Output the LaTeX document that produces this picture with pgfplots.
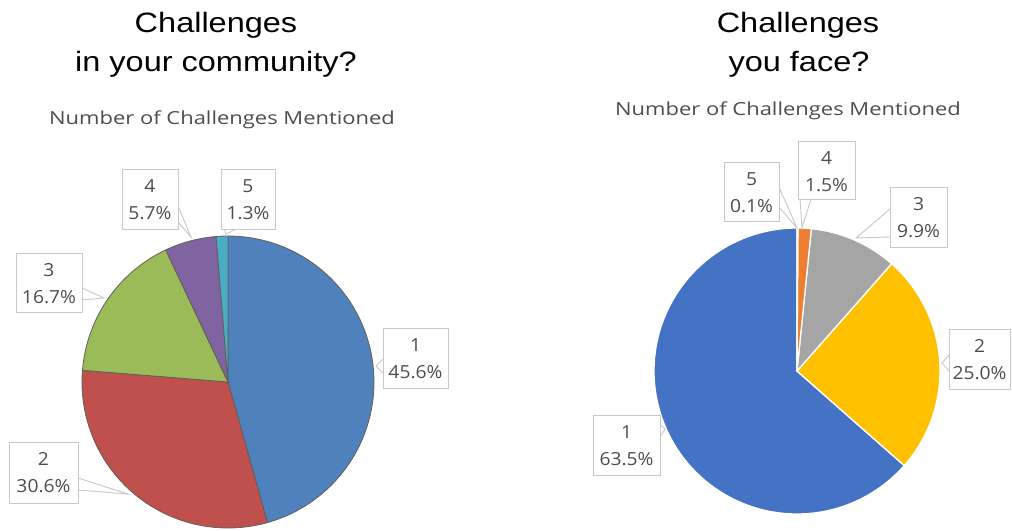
\documentclass[border=0pt]{standalone}
\usepackage{pgfplots}
\pgfplotsset{compat=1.18}
\usepackage{fontspec}
\setmainfont{Liberation Sans}
\newfontfamily\osans{Open Sans}

\definecolor{La}{HTML}{4F81BD}
\definecolor{Lb}{HTML}{C0504D}
\definecolor{Lc}{HTML}{9BBB59}
\definecolor{Ld}{HTML}{8064A2}
\definecolor{Le}{HTML}{4BACC6}
\definecolor{Lborder}{HTML}{5F5F55}
\definecolor{Ra}{HTML}{4472C4}
\definecolor{Rb}{HTML}{FFC000}
\definecolor{Rc}{HTML}{A5A5A5}
\definecolor{Rd}{HTML}{ED7D31}
\definecolor{Re}{HTML}{5B9BD5}
\definecolor{boxc}{HTML}{C8C8C8}
\definecolor{lbltext}{HTML}{4D4D4D}

% left pie: centre (228,382), r = 146, clockwise from the top
% shares (percent): 45.6, 30.6, 16.7, 5.7, 1.3  (cumulative 0,45.6,76.2,92.9,98.6,99.9)
\newcommand{\lslice}[3]{%
  \addplot[fill=#1, draw=Lborder, line width=0.8pt, line join=round,
    domain=90-3.6036*#3:90-3.6036*#2, samples=120]
    ({228+146*cos(x)},{382-146*sin(x)}) -- (axis cs:228,382) -- cycle;}
% right pie: centre (797,371), r = 143, counter-clockwise from the top
% shares (percent): 63.5, 25.0, 9.9, 1.5, 0.1  (cumulative 0,63.5,88.5,98.4,99.9,100)
\newcommand{\rslice}[3]{%
  \addplot[fill=#1, draw=white, line width=1.3pt, line join=round,
    domain=90+3.6*#2:90+3.6*#3, samples=120]
    ({797+143*cos(x)},{371-143*sin(x)}) -- (axis cs:797,371) -- cycle;}

% label box: x0,y0,x1,y1, centre x, line 1, line 2
\newcommand{\lbl}[7]{%
  \draw[boxc, fill=white, line width=0.9pt] (axis cs:#1,#2) rectangle (axis cs:#3,#4);
  \node[anchor=base, inner sep=0pt, text=lbltext, xscale=1.07,
    font=\osans\fontsize{18bp}{20bp}\selectfont] at (axis cs:#5,#2+23) {#6};
  \node[anchor=base, inner sep=0pt, text=lbltext, xscale=1.07,
    font=\osans\fontsize{18bp}{20bp}\selectfont] at (axis cs:#5,#2+50) {#7};}
% beak: base point 1, base point 2, tip
\newcommand{\beak}[6]{%
  \fill[white] (axis cs:#1,#2) -- (axis cs:#5,#6) -- (axis cs:#3,#4) -- cycle;
  \draw[boxc, line width=0.9pt] (axis cs:#1,#2) -- (axis cs:#5,#6) -- (axis cs:#3,#4);}

\begin{document}
\begin{tikzpicture}
\begin{axis}[
  scale only axis, width=1012bp, height=531bp,
  xmin=0, xmax=1012, ymin=0, ymax=531, y dir=reverse,
  hide axis, clip=false]
\path (axis cs:0,0) rectangle (axis cs:1012,531);

% ---- left pie
\lslice{La}{0}{45.6}
\lslice{Lb}{45.6}{76.2}
\lslice{Lc}{76.2}{92.9}
\lslice{Ld}{92.9}{98.6}
\lslice{Le}{98.6}{99.9}

% ---- right pie
\rslice{Ra}{0}{63.5}
\rslice{Rb}{63.5}{88.5}
\rslice{Rc}{88.5}{98.4}
\rslice{Rd}{98.4}{99.9}
\rslice{Re}{99.9}{100}

% ---- titles
\begin{scope}[font=\fontsize{28bp}{33bp}\selectfont]
\node[anchor=base, inner sep=0pt, xscale=1.16] at (axis cs:216,33) {Challenges};
\node[anchor=base, inner sep=0pt, xscale=1.16] at (axis cs:216,72) {in your community?};
\node[anchor=base, inner sep=0pt, xscale=1.16] at (axis cs:798,33) {Challenges};
\node[anchor=base, inner sep=0pt, xscale=1.16] at (axis cs:799,72) {you face?};
\end{scope}
\node[anchor=base, inner sep=0pt, xscale=1.22, text=lbltext,
  font=\osans\fontsize{18bp}{20bp}\selectfont] at (axis cs:222,124) {Number of Challenges Mentioned};
\node[anchor=base, inner sep=0pt, xscale=1.22, text=lbltext,
  font=\osans\fontsize{18bp}{20bp}\selectfont] at (axis cs:788,115) {Number of Challenges Mentioned};

% ---- left labels
\beak{383}{359}{383}{373}{376}{366}
\lbl{383}{328}{448}{388}{415.5}{1}{45.6\%}
\beak{78}{478}{78}{490}{128}{494}
\lbl{9}{442}{78}{503}{43.5}{2}{30.6\%}
\beak{82}{288}{82}{300}{104}{298}
\lbl{16}{253}{82}{312}{49}{3}{16.7\%}
\beak{178}{206}{178}{222}{191}{237}
\lbl{122}{169}{178}{229}{150}{4}{5.7\%}
\beak{224}{229}{236}{229}{226}{234}
\lbl{221}{169}{275}{229}{248}{5}{1.3\%}

% ---- right labels
\beak{660}{424}{660}{437}{665}{429}
\lbl{593}{415}{660}{475}{626.5}{1}{63.5\%}
\beak{949}{355}{949}{371}{942}{363}
\lbl{949}{329}{1010}{389}{979.5}{2}{25.0\%}
\beak{890}{209}{890}{237}{856}{238}
\lbl{890}{187}{947}{247}{918.5}{3}{9.9\%}
\beak{800}{199}{811}{199}{802}{228}
\lbl{798}{141}{855}{199}{826.5}{4}{1.5\%}
\beak{779}{187}{779}{207}{797}{228}
\lbl{724}{162}{779}{221}{751.5}{5}{0.1\%}
\end{axis}
\end{tikzpicture}
\end{document}
